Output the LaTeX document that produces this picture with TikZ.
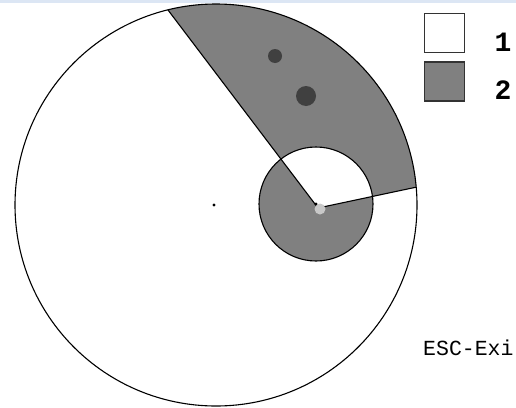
\documentclass[tikz,border=0pt]{standalone}
\usepackage{fontspec}
\setmonofont{Liberation Mono}
\usetikzlibrary{calc}
\definecolor{regiongray}{HTML}{808080}
\definecolor{dotgray}{HTML}{404040}
\definecolor{apexgray}{HTML}{C8C8C8}
\definecolor{topbar}{HTML}{DCE6F4}
\tikzset{
  outline/.style={draw=black, line width=1.1pt},
  legendbox/.style={draw=black!80, line width=1.1pt, minimum width=40pt, minimum height=39pt, inner sep=0pt},
  legendlabel/.style={font=\ttfamily\bfseries\fontsize{28}{28}\selectfont, inner sep=0pt},
}
\begin{document}
\begin{tikzpicture}[x=1pt,y=-1pt]
\useasboundingbox (0,0) rectangle (516,407);
\fill[white] (0,0) rectangle (516,407);
\fill[topbar] (0,0) rectangle (516,3);
\coordinate (O) at (216,205);
\coordinate (S) at (316,204);
\coordinate (A) at (318,208);
\coordinate (P1) at (168,10);
\coordinate (P2) at (417,187);
\begin{scope}
  \clip (O) circle (201);
  \fill[regiongray, even odd rule]
    (A) -- ($(A)!4!(P1)$) -- ($(A)+(210,-562)$) -- ($(A)!4!(P2)$) -- cycle
    (S) circle (57);
  \draw[outline] ($(A)!4!(P1)$) -- (A) -- ($(A)!4!(P2)$);
\end{scope}
\draw[outline] (S) circle (57);
\draw[outline] (O) circle (201);
\fill[black] (214,205) circle (1.7);
\fill[apexgray] (320,209) circle (5.5);
\fill[black] (316,204) circle (1.6);
\fill[dotgray] (275,56) circle (7);
\fill[dotgray] (306,96) circle (10);
\node[legendbox, fill=white] (k1) at (444.5,33) {};
\node[legendbox, fill=regiongray] (k2) at (444.5,81.5) {};
\node[legendlabel] (l1) at (503,42) {1};
\node[legendlabel] (l2) at (503,90) {2};
\node[font=\ttfamily\fontsize{21.5}{21.5}\selectfont, anchor=west, inner sep=0pt] (esc) at (423,348) {ESC-Exi};
\end{tikzpicture}
\end{document}
